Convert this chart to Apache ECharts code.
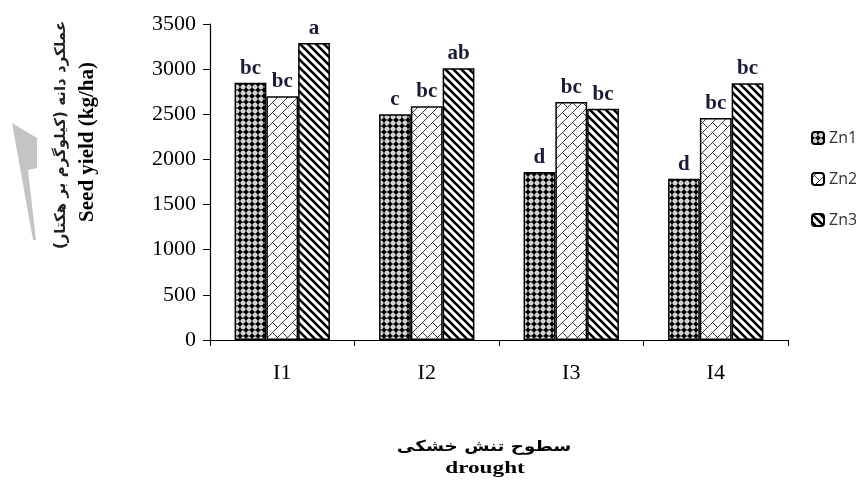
<!DOCTYPE html>
<html><head><meta charset="utf-8">
<script src="https://cdn.jsdelivr.net/npm/echarts@6/dist/echarts.min.js"></script>
<style>html,body{margin:0;padding:0;background:#fff}#c{width:856px;height:484px}</style>
</head><body><div id="c"></div>
<script>
var categories = ['I1', 'I2', 'I3', 'I4'];
var seriesNames = ['Zn1', 'Zn2', 'Zn3'];
var zn1 = [2850, 2500, 1860, 1785];
var zn2 = [2700, 2590, 2635, 2460];
var zn3 = [3290, 3010, 2560, 2845];
var zn1Letters = ['bc', 'c', 'd', 'd'];
var zn2Letters = ['bc', 'bc', 'bc', 'bc'];
var zn3Letters = ['a', 'ab', 'bc', 'bc'];
var yTicks = [0, 500, 1000, 1500, 2000, 2500, 3000, 3500];

function tile(w, h, draw) {
  var c = document.createElement('canvas');
  c.width = w; c.height = h;
  var g = c.getContext('2d');
  draw(g);
  return c;
}
var pat1 = tile(6, 6, function (g) {
  g.fillStyle = '#000'; g.fillRect(0, 0, 6, 6);
  g.fillStyle = '#fff';
  g.beginPath(); g.arc(3, 3, 2.2, 0, Math.PI * 2); g.fill();
  g.fillStyle = '#bbb';
  g.fillRect(2.5, 0, 1, 6); g.fillRect(0, 2.5, 6, 1);
});
var pat2 = tile(10, 10, function (g) {
  g.fillStyle = '#fff'; g.fillRect(0, 0, 10, 10);
  g.strokeStyle = '#222'; g.lineWidth = 0.9;
  g.beginPath();
  g.moveTo(0, 5); g.lineTo(5, 0);
  g.moveTo(5, 10); g.lineTo(10, 5);
  g.moveTo(2.5, 2.5); g.lineTo(7.5, 7.5);
  g.stroke();
});
var pat3 = tile(8, 8, function (g) {
  g.fillStyle = '#fff'; g.fillRect(0, 0, 8, 8);
  g.strokeStyle = '#000'; g.lineWidth = 2.6;
  g.beginPath();
  g.moveTo(-2, -2); g.lineTo(10, 10);
  g.moveTo(-2, 6); g.lineTo(2, 10);
  g.moveTo(6, -2); g.lineTo(10, 2);
  g.stroke();
});

function mkSeries(name, data, letters, pat) {
  return {
    name: name, type: 'bar', data: data,
    barGap: '0%', barCategoryGap: '34%',
    itemStyle: { color: { image: pat, repeat: 'repeat' }, borderColor: '#000', borderWidth: 1.5 },
    label: {
      show: true, position: 'top', distance: 4,
      formatter: function (p) { return letters[p.dataIndex]; },
      fontFamily: 'Liberation Serif', fontWeight: 'bold', fontSize: 21, color: '#1a1a3a'
    }
  };
}

var chart = echarts.init(document.getElementById('c'), null, { renderer: 'canvas' });
chart.setOption({
  animation: false,
  backgroundColor: '#fff',
  grid: { left: 210, right: 68, top: 24, bottom: 144, containLabel: false },
  legend: {
    orient: 'vertical', left: 806, top: 125,
    itemWidth: 12, itemHeight: 12, itemGap: 25,
    data: seriesNames,
    textStyle: { fontFamily: 'Open Sans', fontSize: 16, color: '#333' }
  },
  xAxis: {
    type: 'category', data: categories,
    axisLine: { lineStyle: { color: '#000', width: 1.2 } },
    axisTick: { show: true, length: 6, alignWithLabel: false, lineStyle: { color: '#000' } },
    axisLabel: { margin: 22, fontFamily: 'Liberation Serif', fontSize: 22, color: '#000' }
  },
  yAxis: {
    type: 'value', min: 0, max: 3500, interval: 500,
    axisLine: { show: true, lineStyle: { color: '#000', width: 1.2 } },
    axisTick: { show: true, length: 7, lineStyle: { color: '#000' } },
    splitLine: { show: false },
    axisLabel: {
      margin: 14, fontFamily: 'Liberation Serif', fontSize: 22, color: '#000',
      formatter: function (v) { return yTicks.indexOf(v) >= 0 ? String(v) : ''; }
    }
  },
  graphic: [
    { type: 'polygon', shape: { points: [[12, 123], [37, 138], [37, 168], [28, 170], [36, 240], [33, 240]] },
      style: { fill: '#c4c4c4' } },
    { type: 'text', x: 61, y: 135, rotation: Math.PI / 2,
      style: { text: 'عملکرد دانه (کیلوگرم بر هکتار)', font: 'bold 15px "DejaVu Sans"', fill: '#222',
        textAlign: 'center', textVerticalAlign: 'middle' } },
    { type: 'text', x: 88, y: 142, rotation: Math.PI / 2,
      style: { text: 'Seed yield (kg/ha)', font: 'bold 21px "Liberation Serif"', fill: '#000',
        textAlign: 'center', textVerticalAlign: 'middle' } },
    { type: 'text', x: 484, y: 447, scaleX: 1.22,
      style: { text: 'سطوح تنش خشکی', font: 'bold 15px "DejaVu Sans"', fill: '#000',
        textAlign: 'center', textVerticalAlign: 'middle' } },
    { type: 'text', x: 485, y: 469, scaleX: 1.45,
      style: { text: 'drought', font: 'bold 16px "Liberation Serif"', fill: '#000',
        textAlign: 'center', textVerticalAlign: 'middle' } }
  ],
  series: [
    mkSeries('Zn1', zn1, zn1Letters, pat1),
    mkSeries('Zn2', zn2, zn2Letters, pat2),
    mkSeries('Zn3', zn3, zn3Letters, pat3)
  ]
});
</script></body></html>
